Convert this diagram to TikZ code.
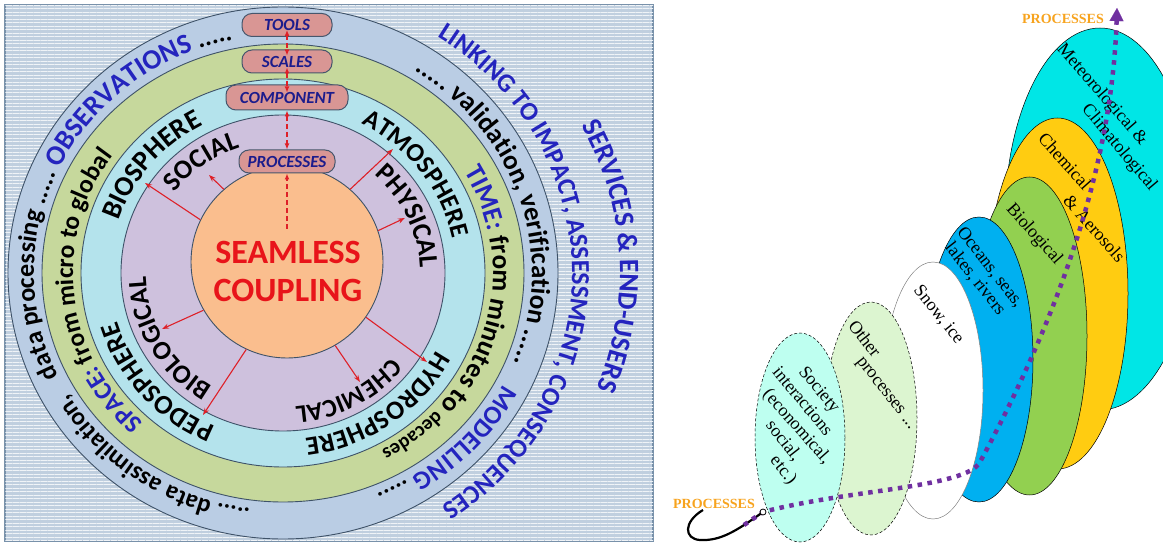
\documentclass[tikz,border=0pt]{standalone}
\usepackage{fontspec}
\setmainfont{Carlito}
\newfontfamily\serifnote{Liberation Serif}
\usetikzlibrary{calc,arrows.meta,decorations.text,patterns.meta}

\definecolor{framefill}{RGB}{192,207,223}
\definecolor{frameline}{RGB}{120,145,170}
\definecolor{outerblue}{RGB}{186,205,228}
\definecolor{ringgreen}{RGB}{198,216,156}
\definecolor{ringwater}{RGB}{180,227,236}
\definecolor{ringpurple}{RGB}{206,193,221}
\definecolor{corefill}{RGB}{250,190,142}
\definecolor{ringline}{RGB}{62,82,104}
\definecolor{boxfill}{RGB}{217,150,148}
\definecolor{boxline}{RGB}{70,86,108}
\definecolor{boxtext}{RGB}{28,28,140}
\definecolor{spokered}{RGB}{222,32,40}
\definecolor{titlered}{RGB}{232,20,26}
\definecolor{textblue}{RGB}{36,36,190}
\definecolor{metcyan}{RGB}{0,230,230}
\definecolor{chemyellow}{RGB}{255,204,17}
\definecolor{biogreen}{RGB}{146,208,80}
\definecolor{oceanblue}{RGB}{0,176,240}
\definecolor{othergreen}{RGB}{220,245,208}
\definecolor{societycyan}{RGB}{190,255,240}
\definecolor{procpurple}{RGB}{112,48,160}
\definecolor{procorange}{RGB}{247,163,30}

\newcommand{\txtsize}[1]{\fontsize{#1}{#1}\selectfont\bfseries}
\newcommand{\ringtext}[4]{%
  \path[decorate,decoration={text along path,text align=center,text={#4}}]
    ($(ctr)+(#3+85:#1pt and #2pt)$) arc[start angle=#3+85,end angle=#3-85,x radius=#1pt,y radius=#2pt];}

\tikzset{
  ring/.style={draw=ringline,line width=0.9pt},
  tag/.style={rounded corners=10pt,fill=boxfill,draw=boxline,line width=1pt,text=boxtext,
    font=\txtsize{17}\itshape,minimum height=23pt,inner sep=0pt},
  spoke/.style={draw=spokered,line width=1.1pt,-{Stealth[length=7pt,width=5pt]}},
  link/.style={draw=spokered,line width=1.4pt,dash pattern=on 5pt off 3pt,
    {Latex[length=6pt,width=5pt]}-{Latex[length=6pt,width=5pt]}},
  layer/.style={draw=black,line width=0.5pt},
  note/.style={font=\serifnote\fontsize{18}{19}\selectfont,inner sep=0pt},
  procline/.style={draw=procpurple,line width=4.5pt,dash pattern=on 4.5pt off 5.5pt},
  proclabel/.style={font=\serifnote\fontsize{14}{14}\selectfont\bfseries,text=procorange,inner sep=0pt}
}

\begin{document}
\begin{tikzpicture}[x=1pt,y=1pt]
\useasboundingbox (0,0) rectangle (1163,544);

\draw[draw=frameline,line width=1.2pt,fill=framefill] (5,3) rectangle (653,539);
\fill[pattern={Lines[angle=0,distance=3.5pt,line width=0.8pt]},pattern color=white!75!framefill] (5,3) rectangle (653,539);
\coordinate (ctr) at (283,271);
\draw[ring,fill=outerblue] (ctr) ellipse[x radius=275pt,y radius=266pt];
\draw[ring,fill=ringgreen] (ctr) ellipse[x radius=241pt,y radius=229pt];
\draw[ring,fill=ringwater] (ctr) ellipse[x radius=202pt,y radius=194pt];
\draw[ring,fill=ringpurple] (ctr) ellipse[x radius=162pt,y radius=158pt];
\node[circle,ring,fill=corefill,minimum size=192pt,inner sep=0pt] (core) at (287,282) {};

\ringtext{249}{238}{235.5}{|\txtsize{25}|..... data assimilation,}
\ringtext{249}{238}{154}{|\txtsize{26}|data processing ..... |\txtsize{28}\color{textblue}|OBSERVATIONS|\txtsize{26}| .....}
\ringtext{249}{238}{17.5}{|\txtsize{27}|..... validation, verification .....}
\ringtext{249}{238}{-46.75}{|\txtsize{26}\color{textblue}|MODELLING|\txtsize{25}| .....}
\ringtext{210}{200}{186}{|\txtsize{25.5}\color{textblue}|SPACE:|\txtsize{25.5}| from micro to global}
\ringtext{210}{200}{-15.5}{|\txtsize{27}\color{textblue}|TIME:|\txtsize{27}| from minutes to |\txtsize{20}|decades}
\ringtext{173}{167}{140.5}{|\txtsize{28}|BIOSPHERE}
\ringtext{173}{167}{221}{|\txtsize{27}|PEDOSPHERE}
\ringtext{173}{167}{36.75}{|\txtsize{26}|ATMOSPHERE}
\ringtext{173}{167}{-54.5}{|\txtsize{26.5}|HYDROSPHERE}
\ringtext{137}{132}{126.25}{|\txtsize{27}|SOCIAL}
\ringtext{137}{132}{24.5}{|\txtsize{27}|PHYSICAL}
\ringtext{137}{132}{209.75}{|\txtsize{26.5}|BIOLOGICAL}
\ringtext{140}{134}{-61.25}{|\txtsize{25.5}|CHEMICAL}
\ringtext{289}{279}{0.5}{|\txtsize{26}\color{textblue}|LINKING TO IMPACT, ASSESSMENT, CONSEQUENCES}
\ringtext{337}{317}{3}{|\txtsize{28}\color{textblue}|SERVICES {\&} END-USERS}

\coordinate (tipbio) at (145,361);
\coordinate (tipsoc) at (209,369);
\coordinate (tipatm) at (393,395);
\coordinate (tipphy) at (405,326);
\coordinate (tipbiol) at (162,215);
\coordinate (tipped) at (203,129);
\coordinate (tipchem) at (360,162);
\coordinate (tiphyd) at (427,182);
\draw[spoke] (core.154) -- (tipbio);
\draw[spoke] (core.131) -- (tipsoc);
\draw[spoke] (core.49) -- (tipatm);
\draw[spoke] (core.19) -- (tipphy);
\draw[spoke] (core.210) -- (tipbiol);
\draw[spoke] (core.245) -- (tipped);
\draw[spoke] (core.300) -- (tipchem);
\draw[spoke] (core.325) -- (tiphyd);

\node[font=\fontsize{34}{38}\selectfont\bfseries,text=titlered,align=center] (title) at (288,273) {SEAMLESS\\COUPLING};

\node[tag,minimum width=90pt] (tools) at (287,519) {TOOLS};
\node[tag,minimum width=90pt] (scales) at (287,482.5) {SCALES};
\node[tag,minimum width=122pt,minimum height=25pt] (comp) at (287,446.5) {COMPONENT};
\node[tag,minimum width=96pt] (proc) at (287,382.5) {PROCESSES};
\coordinate (stub) at (287,315);
\draw[link] ([yshift=-5pt]tools.center) -- ([yshift=6pt]scales.center);
\draw[link] ([yshift=-6pt]scales.center) -- ([yshift=5pt]comp.center);
\draw[link] (comp.south) -- (proc.north);
\draw[link,-{Latex[length=6pt,width=5pt]}] (stub) -- (proc.south);

\draw[layer,fill=metcyan] (1100,325) ellipse[x radius=95pt,y radius=191pt];
\draw[layer,fill=chemyellow] (1057.5,250.5) ellipse[x radius=70.5pt,y radius=175.5pt];
\draw[layer,fill=biogreen] (1029.5,208) ellipse[x radius=57.5pt,y radius=159pt];
\draw[layer,fill=oceanblue] (979,184.5) ellipse[x radius=54pt,y radius=142.5pt];
\draw[layer,draw=gray,fill=white] (933,153.5) ellipse[x radius=50pt,y radius=128.5pt];
\draw[layer,densely dashed,fill=othergreen] (871,125.5) ellipse[x radius=46pt,y radius=116.5pt];
\draw[layer,densely dashed,fill=societycyan] (800,106.5) ellipse[x radius=45pt,y radius=104.5pt];

\node[note,rotate=-49] (met1) at (1102,449) {Meteorological \&};
\node[note,rotate=-50] (met2) at (1119,396) {Climatological};
\node[note,rotate=-48] (chem1) at (1065,382.5) {Chemical};
\node[note,rotate=-48] (chem2) at (1094.5,315.5) {\& Aerosols};
\node[note,rotate=-48.5] (bio) at (1034,309.5) {Biological};
\node[note,rotate=-52,align=center] (ocean) at (982.5,270.5) {Oceans, seas,\\lakes, rivers};
\node[note,rotate=-51.5] (snow) at (938.5,229) {Snow, ice};
\node[note,rotate=-52] (other1) at (865,205.5) {Other};
\node[note,rotate=-52] (other2) at (885,150) {processes ...};
\node[note,rotate=-50.5] (soc1) at (818.5,153.5) {Society};
\node[note,rotate=-50.5] (soc2) at (803,143) {interactions};
\node[note,rotate=-48.5] (soc3) at (796.5,117) {(economical,};
\node[note,rotate=-52] (soc4) at (783.5,103) {social,};
\node[note,rotate=-51] (soc5) at (783,73.5) {etc.)};

\node[proclabel] (procin) at (714,40) {PROCESSES};
\node[proclabel] (procout) at (1063,525) {PROCESSES};
\coordinate (eye) at (763,32);
\coordinate (hookend) at (744,19);
\coordinate (turn) at (980,82);
\coordinate (toptip) at (1117,536);
\draw[line width=2.2pt] (eye) .. controls (735,12) and (720,3) .. (700,4) .. controls (684,5) and (683,22) .. (703,34);
\draw[procline,-{Triangle[length=13pt,width=14pt,line width=0.1pt]}] (hookend) -- (eye) .. controls (850,55) and (966,56) .. (turn) .. controls (1060,230) and (1112,380) .. (toptip);
\node[circle,draw,fill=white,line width=0.8pt,minimum size=6pt,inner sep=0pt] (eyering) at (eye) {};
\end{tikzpicture}
\end{document}
